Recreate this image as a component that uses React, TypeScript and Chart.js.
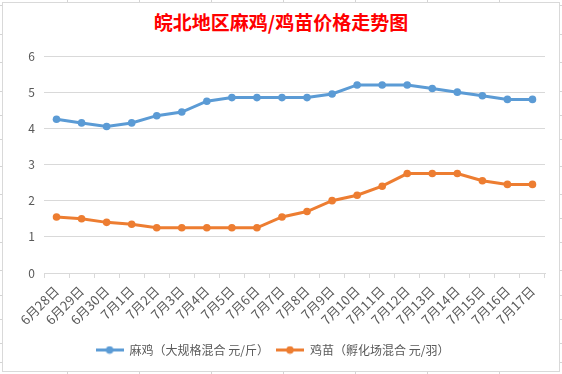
import React, { useEffect, useRef } from "react";
import { Chart, registerables } from "chart.js";

Chart.register(...registerables);

const titleText = "皖北地区麻鸡/鸡苗价格走势图";
const categories = [
  "6月28日", "6月29日", "6月30日", "7月1日", "7月2日", "7月3日", "7月4日",
  "7月5日", "7月6日", "7月7日", "7月8日", "7月9日", "7月10日", "7月11日",
  "7月12日", "7月13日", "7月14日", "7月15日", "7月16日", "7月17日",
];
const seriesNames = ["麻鸡（大规格混合 元/斤）", "鸡苗（孵化场混合 元/羽）"];
const broilerPrices = [
  4.25, 4.15, 4.05, 4.15, 4.35, 4.45, 4.75, 4.85, 4.85, 4.85,
  4.85, 4.95, 5.2, 5.2, 5.2, 5.1, 5.0, 4.9, 4.8, 4.8,
];
const chickPrices = [
  1.55, 1.5, 1.4, 1.35, 1.25, 1.25, 1.25, 1.25, 1.25, 1.55,
  1.7, 2.0, 2.15, 2.4, 2.75, 2.75, 2.75, 2.55, 2.45, 2.45,
];
const yMin = 0;
const yMax = 6;
const yStep = 1;

const BLUE = "#5B9BD5";
const ORANGE = "#ED7D31";
const TEXT = "#595959";
const GRID = "#D9D9D9";
const FONT = "'Noto Sans CJK SC', 'Noto Sans', sans-serif";

const sheetCols = [67, 139, 211, 283, 355, 427, 499];
const sheetRows = [5, 34, 62, 91, 115, 139, 166, 194, 218, 242, 270, 295, 319, 343, 362];

function makeMarker(color: string): HTMLCanvasElement {
  const c = document.createElement("canvas");
  c.width = 28;
  c.height = 9;
  const ctx = c.getContext("2d")!;
  ctx.strokeStyle = color;
  ctx.lineWidth = 3;
  ctx.beginPath();
  ctx.moveTo(0, 4.5);
  ctx.lineTo(28, 4.5);
  ctx.stroke();
  ctx.fillStyle = color;
  ctx.beginPath();
  ctx.arc(14, 4.5, 3.8, 0, Math.PI * 2);
  ctx.fill();
  return c;
}

export default function App() {
  const ref = useRef<HTMLCanvasElement | null>(null);

  useEffect(() => {
    if (!ref.current) return;
    const markers = [makeMarker(BLUE), makeMarker(ORANGE)];
    const chart = new Chart(ref.current, {
      type: "line",
      data: {
        labels: categories,
        datasets: [
          {
            label: seriesNames[0],
            data: broilerPrices,
            borderColor: BLUE,
            backgroundColor: BLUE,
            borderWidth: 3,
            pointRadius: 3.8,
            pointBorderWidth: 0,
            pointBackgroundColor: BLUE,
            tension: 0,
          },
          {
            label: seriesNames[1],
            data: chickPrices,
            borderColor: ORANGE,
            backgroundColor: ORANGE,
            borderWidth: 3,
            pointRadius: 3.8,
            pointBorderWidth: 0,
            pointBackgroundColor: ORANGE,
            tension: 0,
          },
        ],
      },
      options: {
        animation: false,
        responsive: false,
        maintainAspectRatio: false,
        layout: { padding: { left: 0, right: 17, top: 56, bottom: 8 } },
        plugins: {
          title: { display: false },
          legend: {
            display: true,
            position: "bottom",
            labels: {
              usePointStyle: true,
              pointStyleWidth: 28,
              color: TEXT,
              padding: 7,
              font: { family: FONT, size: 12 },
              generateLabels: (c: any) =>
                c.data.datasets.map((ds: any, i: number) => ({
                  text: ds.label,
                  pointStyle: markers[i],
                  fillStyle: ds.borderColor,
                  strokeStyle: ds.borderColor,
                  lineWidth: 0,
                  hidden: false,
                  datasetIndex: i,
                  fontColor: TEXT,
                })),
            },
          },
          tooltip: { enabled: false },
        },
        scales: {
          x: {
            offset: true,
            afterFit: (s: any) => {
              s.height = 64;
            },
            grid: {
              display: true,
              offset: true,
              drawOnChartArea: false,
              drawTicks: true,
              tickLength: 5,
              color: GRID,
            },
            border: { display: true, color: GRID, width: 1 },
            ticks: {
              autoSkip: false,
              minRotation: 45,
              maxRotation: 45,
              color: TEXT,
              padding: 5,
              font: { family: FONT, size: 13 },
            },
          },
          y: {
            min: yMin,
            max: yMax,
            afterFit: (s: any) => {
              s.width = 44;
            },
            grid: { color: GRID, drawTicks: false, lineWidth: 1 },
            border: { display: false },
            ticks: {
              stepSize: yStep,
              color: TEXT,
              padding: 9,
              font: { family: FONT, size: 12 },
            },
          },
        },
      },
    });
    return () => chart.destroy();
  }, []);

  return (
    <div
      style={{
        position: "fixed",
        left: 0,
        top: 0,
        width: 562,
        height: 374,
        background: "#fff",
        overflow: "hidden",
      }}
    >
      {sheetCols.map((x) => (
        <div
          key={"c" + x}
          style={{ position: "absolute", left: x, top: 0, width: 1, height: 374, background: "#D4D4D4" }}
        />
      ))}
      {sheetRows.map((y) => (
        <div
          key={"r" + y}
          style={{ position: "absolute", left: 0, top: y, width: 562, height: 1, background: "#D4D4D4" }}
        />
      ))}
      <div
        style={{
          position: "absolute",
          left: 2,
          top: 2,
          width: 558,
          height: 370,
          boxSizing: "border-box",
          border: "1px solid #D9D9D9",
          background: "#fff",
        }}
      />
      <div
        style={{
          position: "absolute",
          left: 0,
          top: 10,
          width: 562,
          textAlign: "center",
          fontFamily: FONT,
          fontSize: 19,
          lineHeight: "24px",
          fontWeight: "bold",
          color: "#FF0000",
          whiteSpace: "nowrap",
        }}
      >
        {titleText}
      </div>
      <canvas
        ref={ref}
        width={562}
        height={374}
        style={{ position: "absolute", left: 0, top: 0, width: 562, height: 374 }}
      />
    </div>
  );
}
